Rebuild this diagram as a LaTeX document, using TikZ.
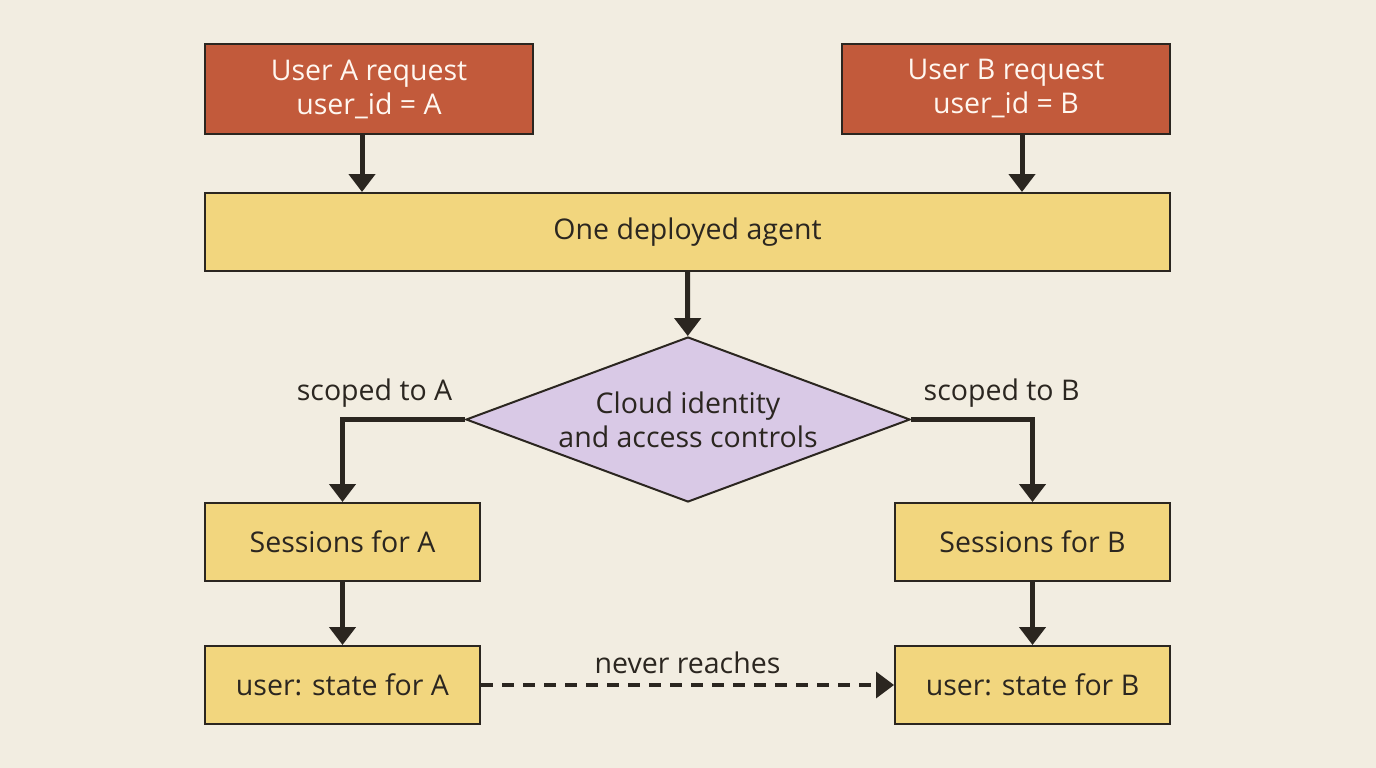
\documentclass[tikz,border=0pt]{standalone}
\usepackage{fontspec}
\setmainfont{Open Sans}
\usetikzlibrary{arrows.meta,positioning,shapes.geometric}
\definecolor{bgc}{HTML}{F2EDE1}
\definecolor{reqc}{HTML}{C25A3B}
\definecolor{boxc}{HTML}{F2D67E}
\definecolor{decc}{HTML}{D9C9E6}
\definecolor{inkc}{HTML}{2B2620}
\tikzset{
  base/.style={draw=inkc, line width=2pt, inner sep=0pt, align=center, font=\fontsize{28.5}{34}\selectfont},
  req/.style={base, fill=reqc, text=white!94!orange, minimum width=328pt, minimum height=90pt},
  box/.style={base, fill=boxc, text=inkc, minimum height=78pt},
  dec/.style={base, diamond, fill=decc, text=inkc, aspect=2.69, minimum width=444pt, minimum height=165pt},
  flow/.style={draw=inkc, line width=5pt, -{Triangle[length=18pt,width=26pt]}},
  lbl/.style={text=inkc, font=\fontsize{28.5}{34}\selectfont}
}
\begin{document}
\begin{tikzpicture}[x=1pt,y=-1pt]
\fill[bgc] (0,0) rectangle (1376,768);
\useasboundingbox (0,0) rectangle (1376,768);
\node[req] (ua) at (369,89) {User A request\\user\_id = A};
\node[req] (ub) at (1006,89) {User B request\\user\_id = B};
\node[box, minimum width=965pt] (agent) at (687.5,232) {One deployed agent};
\node[dec] (iam) at (688,419.5) {Cloud identity\\and access controls};
\node[box, minimum width=275pt] (sa) at (342.5,542) {Sessions for A};
\node[box, minimum width=275pt] (sb) at (1032.5,542) {Sessions for B};
\node[box, minimum width=275pt] (ta) at (342.5,685) {user: state for A};
\node[box, minimum width=275pt] (tb) at (1032.5,685) {user: state for B};
\coordinate (ca) at (362,0);
\coordinate (cb) at (1022,0);
\draw[flow] (ua.south -| ca) -- (agent.north -| ca);
\draw[flow] (ub.south -| cb) -- (agent.north -| cb);
\draw[flow] (agent) -- (iam);
\draw[flow] (iam.west) -| (sa.north) node[lbl, pos=0.02, above left=6pt and 2pt] {scoped to A};
\draw[flow] (iam.east) -| (sb.north) node[lbl, pos=0.02, above right=6pt and 2pt] {scoped to B};
\draw[flow] (sa) -- (ta);
\draw[flow] (sb) -- (tb);
\draw[flow, line width=3.5pt, dash pattern=on 12pt off 9pt] (ta) -- (tb) node[lbl, midway, above=6pt] {never reaches};
\end{tikzpicture}
\end{document}
